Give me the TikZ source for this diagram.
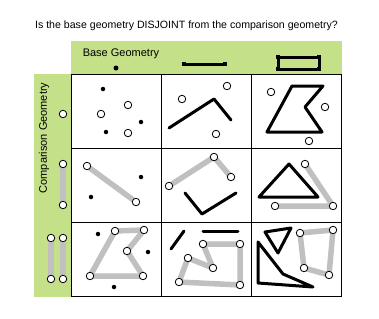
\documentclass[tikz,border=0pt]{standalone}
\usepackage{fontspec}
\setmainfont{Liberation Sans}
\definecolor{hdrgreen}{RGB}{196,224,136}
\definecolor{bargray}{RGB}{192,192,192}
\begin{document}
\begin{tikzpicture}[x=1bp,y=-1bp,
  gline/.style={draw=bargray,line width=5.5bp,line cap=round,line join=round},
  bline/.style={draw=black,line width=3bp,line cap=round,line join=round},
  opt/.style={circle,draw=black,fill=white,line width=0.8bp,inner sep=0pt,minimum size=7.5bp},
  bdot/.style={circle,fill=black,inner sep=0pt,minimum size=4.5bp},
  vdot/.style={rectangle,fill=black,inner sep=0pt,minimum size=4.5bp},
  lbl/.style={font=\fontsize{11bp}{13bp}\selectfont,inner sep=0pt}]
\useasboundingbox (0,0) rectangle (379,319);
\fill[white] (0,0) rectangle (379,319);
% green bands
\fill[hdrgreen] (71,41) rectangle (342,74);
\fill[hdrgreen] (34,74) rectangle (71,297);
% grid
\fill[white] (71,74) rectangle (341,296);
\draw[black,line width=1bp] (71,74) rectangle (341,296);
\draw[black,line width=1bp] (161,74) -- (161,296) (251,74) -- (251,296)
  (71,148) -- (341,148) (71,222) -- (341,222);
% texts
\node[lbl,font=\fontsize{10.6bp}{13bp}\selectfont] (title) at (186.5,25.5) {Is the base geometry DISJOINT from the comparison geometry?};
\node[lbl] (base) at (121,54) {Base Geometry};
\node[lbl,rotate=90] (comp) at (44,138) {Comparison Geometry};
% header symbols
\node[bdot,minimum size=5bp] (hp) at (116,68) {};
\coordinate (hl1) at (184,64); \coordinate (hl2) at (225,64);
\draw[bline,line cap=butt] (hl1) -- (hl2);
\node[vdot] at (hl1) {}; \node[vdot] at (hl2) {};
\coordinate (hr1) at (278,57); \coordinate (hr2) at (319,69);
\draw[black,line width=3bp] (hr1) rectangle (hr2);
\node[vdot] at (278,57) {}; \node[vdot] at (319,57) {};
\node[vdot] at (278,69) {}; \node[vdot] at (319,69) {};
% left column symbols
\node[opt] (lc1) at (63,114) {};
\coordinate (lc2a) at (63,164); \coordinate (lc2b) at (63,205);
\draw[gline,line cap=butt] (lc2a) -- (lc2b);
\node[opt] at (lc2a) {}; \node[opt] at (lc2b) {};
\coordinate (lc3a) at (51,238); \coordinate (lc3b) at (51,279);
\coordinate (lc3c) at (63,238); \coordinate (lc3d) at (63,279);
\draw[gline,line cap=butt] (lc3a) -- (lc3b) (lc3c) -- (lc3d);
\foreach \p in {lc3a,lc3b,lc3c,lc3d} \node[opt] at (\p) {};
% cell (1,1)
\node[bdot] (a1) at (103,89) {};
\node[bdot] (a2) at (141,122) {};
\node[bdot] (a3) at (106,132) {};
\node[opt] (a4) at (128,105) {};
\node[opt] (a5) at (101,114) {};
\node[opt] (a6) at (128,133) {};
% cell (1,2)
\draw[bline] (169,128) -- (214,99) -- (231,120);
\node[opt] (b1) at (182,99) {};
\node[opt] (b2) at (227,86) {};
\node[opt] (b3) at (216,134) {};
% cell (1,3)
\draw[bline] (292,86) -- (323,86) -- (305,107) -- (322,132) -- (267,132) -- cycle;
\node[opt] (c1) at (271,92) {};
\node[opt] (c2) at (325,107) {};
\node[opt] (c3) at (309,141) {};
% cell (2,1)
\coordinate (d1) at (87,166); \coordinate (d2) at (136,202);
\draw[gline] (d1) -- (d2);
\node[opt] at (d1) {}; \node[opt] at (d2) {};
\node[bdot] (d3) at (141,177) {};
\node[bdot] (d4) at (91,197) {};
% cell (2,2)
\coordinate (e1) at (169,186); \coordinate (e2) at (214,157); \coordinate (e3) at (231,177);
\draw[gline] (e1) -- (e2) -- (e3);
\foreach \p in {e1,e2,e3} \node[opt] at (\p) {};
\draw[bline] (185,193) -- (202,214) -- (236,193);
% cell (2,3)
\coordinate (f1) at (275,206); \coordinate (f2) at (333,206); \coordinate (f3) at (305,164);
\draw[gline] (f1) -- (f2) -- (f3);
\draw[bline] (259,197) -- (289,164) -- (318,197) -- cycle;
\foreach \p in {f1,f2,f3} \node[opt] at (\p) {};
% cell (3,1)
\coordinate (g1) at (115,231); \coordinate (g2) at (144,230); \coordinate (g3) at (127,251);
\coordinate (g4) at (143,276); \coordinate (g5) at (90,276);
\draw[gline] (g1) -- (g2) -- (g3) -- (g4) -- (g5) -- cycle;
\foreach \p in {g1,g2,g3,g4,g5} \node[opt] at (\p) {};
\node[bdot] (g6) at (98,234) {};
\node[bdot] (g7) at (148,252) {};
\node[bdot] (g8) at (114,287) {};
% cell (3,2)
\coordinate (h1) at (203,244); \coordinate (h2) at (240,244); \coordinate (h3) at (240,285);
\coordinate (h4) at (179,282); \coordinate (h5) at (188,258); \coordinate (h6) at (213,268);
\draw[gline] (h1) -- (h2) -- (h3) -- (h4) -- (h5) -- (h6) -- cycle;
\foreach \p in {h1,h2,h3,h4,h5,h6} \node[opt] at (\p) {};
\draw[bline] (171,249) -- (184,231);
\draw[bline] (203,231) -- (238,231);
% cell (3,3)
\draw[bline] (265,232) -- (291,228) -- (278,253) -- cycle;
\draw[bline] (258,242) -- (283,274) -- (313,287) -- (258,283) -- cycle;
\coordinate (k1) at (300,233); \coordinate (k2) at (333,230); \coordinate (k3) at (329,275); \coordinate (k4) at (304,268);
\draw[gline] (k1) -- (k2) -- (k3) -- (k4) -- cycle;
\foreach \p in {k1,k2,k3,k4} \node[opt] at (\p) {};
\end{tikzpicture}
\end{document}
